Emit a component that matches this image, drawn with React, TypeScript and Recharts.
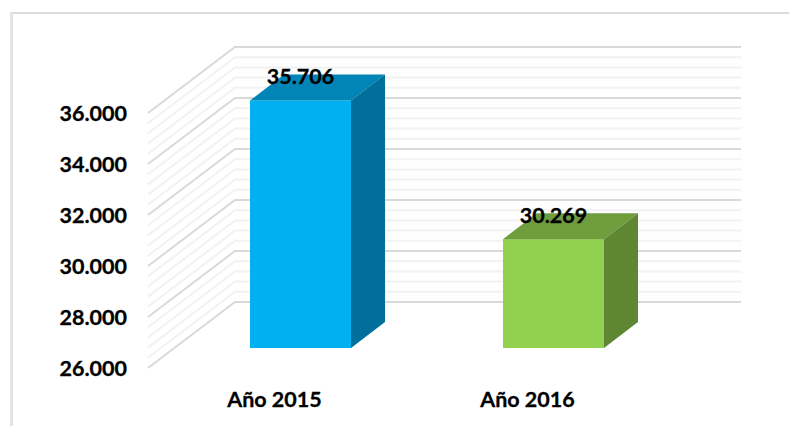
import { BarChart, Bar, XAxis, YAxis, ReferenceLine, LabelList } from "recharts";

const categories = ["Año 2015", "Año 2016"];
const values = [35706, 30269];
const yTicks = [26000, 28000, 30000, 32000, 34000, 36000];
const minorLevels = [
  26400, 26800, 27200, 27600, 28400, 28800, 29200, 29600, 30400, 30800, 31200,
  31600, 32400, 32800, 33200, 33600, 34400, 34800, 35200, 35600,
];
const frontColors = ["#00B0F0", "#92D050"];
const topColors = ["#0085B6", "#6F9C3D"];
const sideColors = ["#006F9B", "#5F8632"];

const data = categories.map((name, i) => ({ name, value: values[i] }));

const FONT = "Lato, sans-serif";
const textStyle = { fontFamily: FONT, fontWeight: 700, fontSize: 21.5, fill: "#000", stroke: "#000", strokeWidth: 0.3 };
// wall depth and bar depth of the fake 3D box
const WALL_DX = 87;
const WALL_DY = 66;
const WALL_RIGHT = 741;
const BAR_SHIFT_X = 26;
const BAR_SHIFT_Y = 20;
const BAR_DX = 34;
const BAR_DY = 26;

const fmt = (v: number) => String(v).replace(/\B(?=(\d{3})+$)/g, ".");

function wallLine(color: string) {
  return (props: any) => {
    const { x1, y1 } = props;
    return (
      <path
        d={`M${x1},${y1} L${x1 + WALL_DX},${y1 - WALL_DY} L${WALL_RIGHT},${y1 - WALL_DY}`}
        fill="none"
        stroke={color}
        strokeWidth={2}
      />
    );
  };
}

function Box3D(props: any) {
  const { x, y, width, height, index } = props;
  const l = x + BAR_SHIFT_X;
  const t = y - BAR_SHIFT_Y;
  const r = l + width;
  const b = t + height;
  return (
    <g>
      <rect x={l} y={t} width={width} height={height} fill={frontColors[index]} />
      <path
        d={`M${l},${t} L${l + BAR_DX},${t - BAR_DY} L${r + BAR_DX},${t - BAR_DY} L${r},${t} Z`}
        fill={topColors[index]}
      />
      <path
        d={`M${r},${t} L${r + BAR_DX},${t - BAR_DY} L${r + BAR_DX},${b - BAR_DY} L${r},${b} Z`}
        fill={sideColors[index]}
      />
    </g>
  );
}

function BoxLabel(props: any) {
  const { x, y, width, value } = props;
  return (
    <text
      x={x + BAR_SHIFT_X + width / 2}
      y={y - BAR_SHIFT_Y - 24}
      textAnchor="middle"
      dominantBaseline="central"
      style={textStyle}
    >
      {fmt(value)}
    </text>
  );
}

export default function App() {
  return (
    <div style={{ position: "absolute", left: 0, top: 0, width: 789, height: 426, background: "#fff" }}>
      <div
        style={{
          position: "absolute",
          left: 10,
          top: 12,
          width: 779,
          height: 414,
          boxSizing: "border-box",
          borderLeft: "3px solid #E4E4E4",
          borderTop: "2px solid #DCDCDC",
        }}
      />
      <div style={{ position: "absolute", left: 0, top: 0 }}>
        <BarChart
          width={789}
          height={426}
          data={data}
          barSize={101}
          margin={{ top: 113, right: 135, bottom: 0, left: 0 }}
        >
          <XAxis
            dataKey="name"
            height={58}
            axisLine={false}
            tickLine={false}
            tickMargin={18}
            tick={textStyle}
          />
          <YAxis
            width={148}
            domain={[26000, 36000]}
            ticks={yTicks}
            tickFormatter={fmt}
            axisLine={false}
            tickLine={false}
            tickMargin={15}
            tick={textStyle}
          />
          {minorLevels.map((v) => (
            <ReferenceLine key={v} y={v} zIndex={100} shape={wallLine("#F2F2F2")} />
          ))}
          {yTicks.map((v) => (
            <ReferenceLine key={v} y={v} zIndex={101} shape={wallLine("#D9D9D9")} />
          ))}
          <Bar dataKey="value" shape={Box3D} isAnimationActive={false}>
            <LabelList dataKey="value" content={BoxLabel} />
          </Bar>
        </BarChart>
      </div>
    </div>
  );
}
